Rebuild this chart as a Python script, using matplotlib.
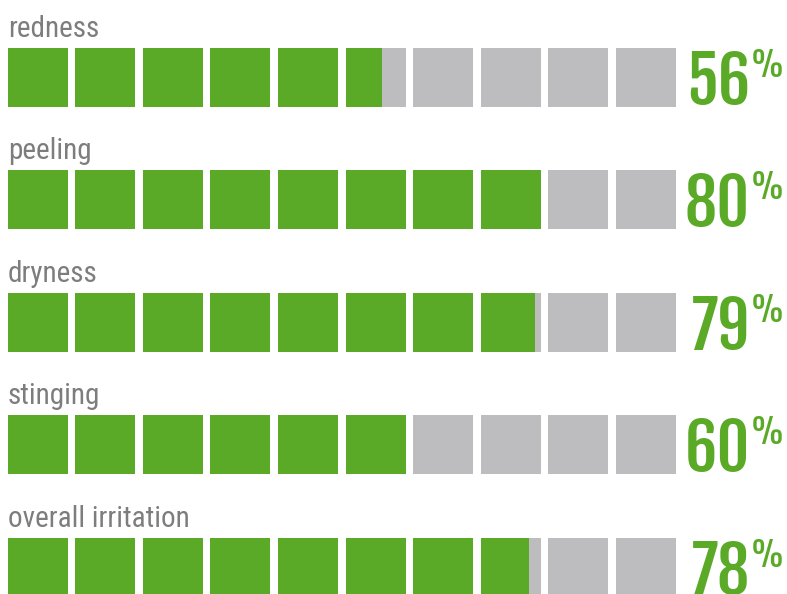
import matplotlib
matplotlib.use('Agg')
from matplotlib import pyplot as plt
from matplotlib.patches import Rectangle

# data
labels = ['redness', 'peeling', 'dryness', 'stinging', 'overall irritation']
values = [56, 80, 79, 60, 78]

green = '#5aaa28'
grey_box = '#bdbdc0'
grey_text = '#7d7d7d'
label_font = ['Roboto Condensed', 'DejaVu Sans']
num_font = ['Fjalla One', 'DejaVu Sans']
pct_font = ['Oswald', 'DejaVu Sans']

W, H = 787, 594
fig = plt.figure(figsize=(W / 100, H / 100), dpi=100)
ax = fig.add_axes([0, 0, 1, 1])
ax.set_xlim(0, W)
ax.set_ylim(H, 0)
ax.axis('off')

# layout in pixel units
x0 = 7.5
pitch = 67.6
box_w = 60
box_h = 59
top0 = 48
row_gap = 122.4

for i, (label, val) in enumerate(zip(labels, values)):
    top = top0 + i * row_gap
    ax.text(8, top - 11, label, fontsize=21, color=grey_text, family=label_font,
            ha='left', va='baseline')
    filled = val / 10.0
    for k in range(10):
        left = x0 + k * pitch
        ax.add_patch(Rectangle((left, top), box_w, box_h, color=grey_box, lw=0))
        frac = min(max(filled - k, 0), 1)
        if frac > 0:
            ax.add_patch(Rectangle((left, top), box_w * frac, box_h, color=green, lw=0))
    ax.text(750, top + 57, str(val), fontsize=46, color=green,
            family=num_font, ha='right', va='baseline')
    ax.text(752, top + 1, '%', fontsize=25, color=green, family=pct_font,
            ha='left', va='top')

fig.savefig('out.png', dpi=100)
